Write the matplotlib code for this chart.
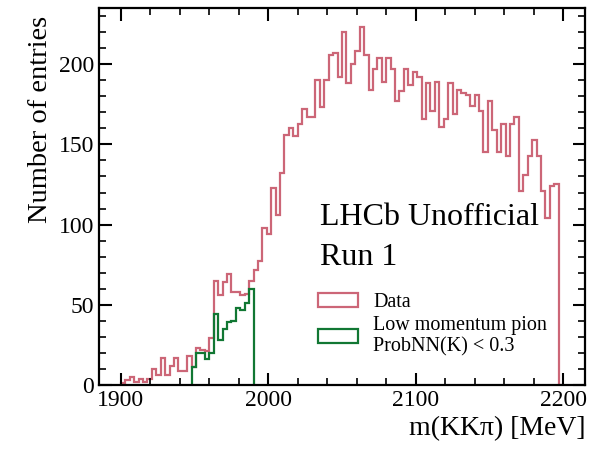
import numpy as np
import matplotlib
matplotlib.use("Agg")
import matplotlib.pyplot as plt
from matplotlib.ticker import MultipleLocator
from matplotlib.patches import Patch

# ---- data ----
bin_lo, bin_hi, n_bins = 1900, 2200, 100
data_counts = [
    1, 3, 5, 2, 4, 2, 4, 10, 6, 17,
    6, 12, 17, 9, 9, 18, 11, 23, 22, 21,
    29, 65, 56, 64, 69, 58, 58, 56, 57, 65,
    72, 77, 98, 94, 123, 106, 132, 156, 160, 155,
    163, 172, 167, 167, 190, 173, 190, 206, 207, 192,
    220, 188, 200, 208, 223, 206, 184, 197, 204, 189,
    204, 197, 177, 183, 197, 187, 195, 192, 166, 188,
    171, 189, 161, 166, 188, 169, 184, 182, 181, 174,
    181, 171, 145, 177, 159, 145, 163, 143, 163, 167,
    121, 131, 143, 153, 143, 121, 104, 124, 125, 0,
]
lowmom_first_bin = 16
lowmom_counts = [11, 20, 20, 16, 20, 44, 28, 35, 39, 40, 48, 47, 51, 60]

labels = ["Data", "Low momentum pion\nProbNN(K) < 0.3"]
colors = ["#CC6677", "#117733"]

edges = np.linspace(bin_lo, bin_hi, n_bins + 1)

plt.rcParams["font.family"] = ["Liberation Serif", "DejaVu Serif"]
plt.rcParams["mathtext.fontset"] = "stix"

fig = plt.figure(figsize=(5.95, 4.5), dpi=100)
ax = fig.add_axes([0.166, 0.1444, 0.8175, 0.8378])

ax.stairs(data_counts, edges, color=colors[0], lw=1.6)
g_edges = edges[lowmom_first_bin:lowmom_first_bin + len(lowmom_counts) + 1]
ax.stairs(lowmom_counts, g_edges, color=colors[1], lw=1.6)

ax.set_xlim(1885, 2215)
ax.set_ylim(0, 235)

ax.xaxis.set_major_locator(MultipleLocator(100))
ax.xaxis.set_minor_locator(MultipleLocator(20))
ax.yaxis.set_major_locator(MultipleLocator(50))
ax.yaxis.set_minor_locator(MultipleLocator(10))

ax.tick_params(which="both", direction="in", top=True, right=True, labelsize=17)
ax.tick_params(which="major", length=9, width=1.5)
ax.tick_params(which="minor", length=5, width=1.2)
for s in ax.spines.values():
    s.set_linewidth(1.6)

ax.set_xlabel("m(KKπ) [MeV]", loc="right", fontsize=20)
ax.set_ylabel("Number of entries", loc="top", fontsize=20.5)
ax.yaxis.label.set_y(0.98)

ax.text(0.455, 0.424, "LHCb Unofficial", transform=ax.transAxes,
        fontsize=23, va="baseline", ha="left")
ax.text(0.455, 0.318, "Run 1", transform=ax.transAxes,
        fontsize=23, va="baseline", ha="left")

handles = [Patch(facecolor="none", edgecolor=c, linewidth=1.6) for c in colors]
ax.legend(handles, labels, loc="upper left", bbox_to_anchor=(0.4506, 0.245),
          frameon=False, fontsize=14.5, borderaxespad=0, borderpad=0,
          handlelength=2.0, handleheight=0.7, handletextpad=0.75,
          labelspacing=0.2)

fig.savefig("out.png", dpi=100)
